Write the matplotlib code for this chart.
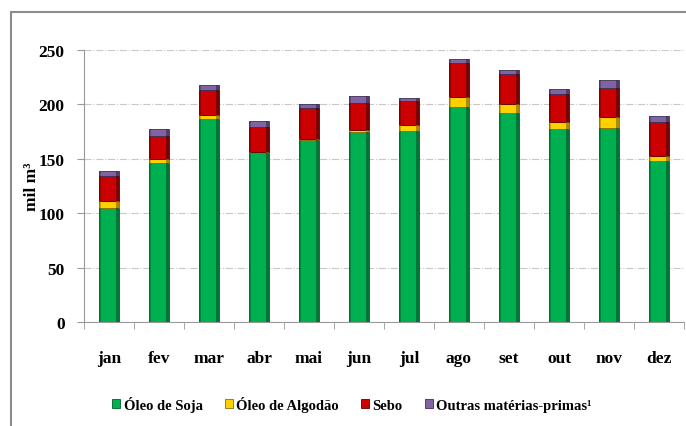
import numpy as np
import matplotlib.pyplot as plt
from matplotlib.patches import Rectangle

meses = ['jan', 'fev', 'mar', 'abr', 'mai', 'jun', 'jul', 'ago', 'set', 'out', 'nov', 'dez']
soja = [105, 146, 187, 155, 167, 175, 176, 198, 192, 177, 178, 148]
algodao = [6, 4, 3, 1, 1, 1.5, 5, 9, 8, 7, 10, 5]
sebo = [23, 21, 23, 23, 29, 25, 22, 31, 28, 26, 27, 31]
outras = [5, 6, 5, 6, 3, 6.5, 3, 4, 4, 4, 7, 5]
nomes = ['Óleo de Soja', 'Óleo de Algodão', 'Sebo', 'Outras matérias-primas¹']
yticks = [0, 50, 100, 150, 200, 250]

# face, dark edge
cores = [('#00B050', '#005C2A'), ('#FFD000', '#8C6D00'),
         ('#CC0000', '#5C0000'), ('#8064A2', '#3E2E55')]

fonte = dict(family='Liberation Serif', weight='bold')

fig = plt.figure(figsize=(6.86, 4.27), dpi=100)
ax = fig.add_axes([84/686, 1-323/427, 600/686, 272/427])

x = np.arange(len(meses))
w = 0.4
base = np.zeros(len(meses))
for serie, (cor, escura) in zip([soja, algodao, sebo, outras], cores):
    serie = np.array(serie, dtype=float)
    ax.bar(x, serie, w, bottom=base, color=cor, edgecolor=escura, linewidth=0.6, zorder=3)
    # bevel: darker strips on the sides
    ax.bar(x + w/2 - w*0.07, serie, w*0.14, bottom=base, color=escura, alpha=0.7,
           linewidth=0, zorder=4)
    ax.bar(x - w/2 + w*0.04, serie, w*0.08, bottom=base, color=escura, alpha=0.45,
           linewidth=0, zorder=4)
    base += serie

ax.set_xlim(-0.5, len(meses) - 0.5)
ax.set_ylim(0, 250)
ax.set_yticks(yticks)
ax.set_xticks(x)
ax.set_xticklabels(meses, **fonte, fontsize=12.5)
ax.set_xticks(np.arange(len(meses) + 1) - 0.5, minor=True)
ax.tick_params(axis='x', which='major', length=0, pad=20)
ax.tick_params(axis='x', which='minor', length=5, color='#999999', direction='out')
ax.tick_params(axis='y', length=5, color='#999999', pad=9)
for lab in ax.get_yticklabels():
    lab.set_fontfamily('Liberation Serif')
    lab.set_fontweight('bold')
    lab.set_fontsize(12.5)

ax.grid(axis='y', ls='-.', color='#C8C8C8', lw=0.8, zorder=0)
for s in ['top', 'right']:
    ax.spines[s].set_visible(False)
for s in ['left', 'bottom']:
    ax.spines[s].set_color('#999999')

ax.set_ylabel('mil m³', **fonte, fontsize=12.5)
ax.yaxis.set_label_coords(-44/600, 0.5)

handles = [Rectangle((0, 0), 1, 1, facecolor=c, edgecolor=e, lw=0.6) for c, e in cores]
leg = fig.legend(handles, nomes, loc='center', bbox_to_anchor=(352/686, 1-405/427), ncol=4,
                 frameon=False, handlelength=0.55, handleheight=0.55, handletextpad=0.25,
                 columnspacing=1.5, prop=dict(family='Liberation Serif', weight='bold', size=10.5))

fig.patches.append(Rectangle((11/686, -0.05), 1.2, 1.05 - 13/427, transform=fig.transFigure,
                             fill=False, edgecolor='#8C8C8C', lw=1.5))

fig.savefig('out.png', dpi=100)
